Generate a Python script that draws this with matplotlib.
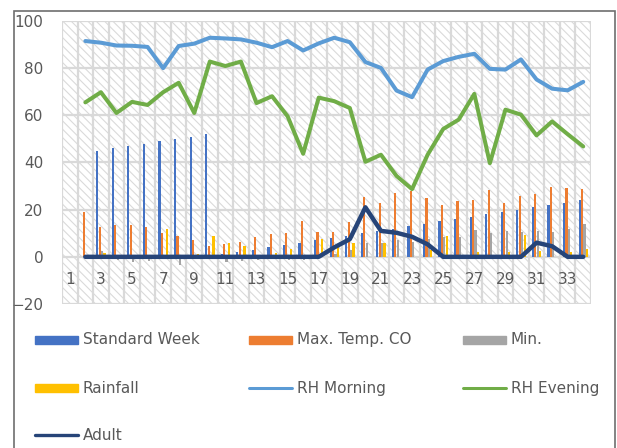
import numpy as np
import matplotlib
matplotlib.use("Agg")
import matplotlib.pyplot as plt
from matplotlib.patches import Rectangle
from matplotlib.lines import Line2D

nan = np.nan

# categories on the x axis (first one is empty in the source sheet)
categories = list(range(1, 35))

std_week = [nan, nan, 45, 46, 47, 48, 49, 50, 51, 52,
            1, 2, 3, 4, 5, 6, 7, 8, 9, 10, 11, 12,
            13, 14, 15, 16, 17, 18, 19, 20, 21, 22, 23, 24]
max_temp = [nan, 19, 12.5, 13.6, 13.5, 12.5, 10.2, 9, 7.1, 4.8, 5.5, 6.1,
            8.2, 9.5, 10.2, 15.2, 10.5, 10.6, 14.9, 25.5, 22.8, 27.2, 28,
            25, 21.8, 23.8, 24.3, 28.5, 22.8, 25.8, 26.7, 29.6, 29.2, 28.8]
min_temp = [nan, nan, 2.3, -1.5, -2, -1.8, 0, -3.5, -1, 0, -2.3, -1.8,
            -1.5, -1, -1.5, -1.5, 0.5, 1.1, 2.8, 5.7, 5.7, 7, 6.5,
            7.7, 8.2, 8.2, 11.3, 10.1, 11, 10.6, 10.9, 10.6, 12, 14]
rainfall = [nan, 0, 1.5, 0, 0, 0, 12, 0, 1, 9, 6, 4.5,
            0, 1.5, 3.3, 0, 7.5, 4, 5.7, 0, 5.7, 0, 0,
            2.8, 8.8, 0, 2.2, 0, 2, 9.3, 2.5, 0, 2, 3.4]
rh_morning = [nan, 91.5, 90.8, 89.6, 89.5, 89, 80, 89.4, 90.4, 92.9, 92.6, 92.2,
              90.8, 88.9, 91.5, 87.5, 90.5, 92.9, 91, 82.6, 80.1, 70.5, 67.7,
              79.4, 83, 84.8, 86.1, 79.7, 79.4, 83.7, 75.2, 71.3, 70.6, 74.2]
rh_evening = [nan, 65.5, 69.8, 61, 65.7, 64.4, 69.8, 73.8, 61, 82.8, 80.9, 82.8,
              65.2, 68.1, 59.6, 43.7, 67.5, 66, 63.1, 40.3, 43.3, 34.3, 28.7,
              43.3, 54.2, 58.2, 69.1, 39.7, 62.4, 60.3, 51.5, 57.4, 52, 46.8]
adult = [nan, 0, 0, 0, 0, 0, 0, 0, 0, 0, 0, 0,
         0, 0, 0, 0, 0, 4, 7.5, 21, 11, 10.2, 8.5,
         5.3, 0, 0, 0, 0, 0, 0, 6, 4.5, 0, 0]

bar_series = [("Standard Week", std_week, "#4472C4"),
              ("Max. Temp. CO", max_temp, "#ED7D31"),
              ("Min.", min_temp, "#A5A5A5"),
              ("Rainfall", rainfall, "#FFC000")]
line_series = [("RH Morning", rh_morning, "#5B9BD5", 2.9),
               ("RH Evening", rh_evening, "#70AD47", 2.9),
               ("Adult", adult, "#264478", 3.2)]

W, H = 617, 448
TXT = "#595959"
GRID = "#d9d9d9"

plt.rcParams["font.family"] = "DejaVu Sans"
plt.rcParams["hatch.color"] = "#dadada"
plt.rcParams["hatch.linewidth"] = 0.8

fig = plt.figure(figsize=(W / 100, H / 100), dpi=100)
ax = fig.add_axes([62 / W, 1 - 304 / H, (591 - 62) / W, (304 - 21) / H])

# hatched plot area
ax.add_patch(Rectangle((0, 0), 1, 1, transform=ax.transAxes, facecolor="white",
                       edgecolor="#dadada", lw=0, hatch="\\\\\\\\", zorder=0))

x = np.array(categories, dtype=float)
bw = 0.155
for i, (name, vals, col) in enumerate(bar_series):
    ax.bar(x + (i - 1.5) * bw, vals, width=bw * 0.9, color=col, zorder=3)

for name, vals, col, lw in line_series:
    ax.plot(x, vals, color=col, lw=lw, solid_joinstyle="round",
            solid_capstyle="round", zorder=4)

ax.set_xlim(0.5, 34.5)
ax.set_ylim(-20, 100)

# grid lines
for yv in range(-20, 101, 20):
    ax.axhline(yv, color=GRID, lw=1.6, zorder=1)
for xv in np.arange(0.5, 35, 1):
    ax.axvline(xv, color=GRID, lw=1.6, zorder=1)

for s in ax.spines.values():
    s.set_visible(False)
ax.set_xticks([])
ax.set_yticks(range(-20, 101, 20))
ax.tick_params(axis="y", length=0, pad=13.5, labelsize=11, labelcolor=TXT)

# category labels sit just under the zero line
for c in categories[::2]:
    ax.text(c, -9.5, str(c), ha="center", va="center", fontsize=11, color=TXT,
            zorder=5)

# chart border
fig.add_artist(Rectangle((14 / W, -0.1), (615 - 14) / W, 1 - 11 / H + 0.1,
                         transform=fig.transFigure, fill=False,
                         edgecolor="#6e6e6e", lw=1.2))

# legend, laid out like the Excel one (row by row)
entries = [(n, "bar", c, 0) for n, v, c in bar_series] + \
          [(n, "line", c, lw) for n, v, c, lw in line_series]
col_x = [35, 249.3, 463]
row_y = [339.7, 388, 435.3]
for k, (name, kind, col, lw) in enumerate(entries):
    px = col_x[k % 3]
    py = row_y[k // 3]
    if kind == "bar":
        fig.add_artist(Rectangle((px / W, 1 - (py + 4) / H), 43 / W, 8 / H,
                                 transform=fig.transFigure, color=col))
    else:
        fig.add_artist(Line2D([px / W, (px + 43) / W], [1 - py / H, 1 - py / H],
                              transform=fig.transFigure, color=col,
                              lw=lw * 0.75, solid_capstyle="round"))
    fig.text((px + 48) / W, 1 - py / H, name, ha="left", va="center",
             fontsize=11, color=TXT)

fig.savefig("out.png", dpi=100)
